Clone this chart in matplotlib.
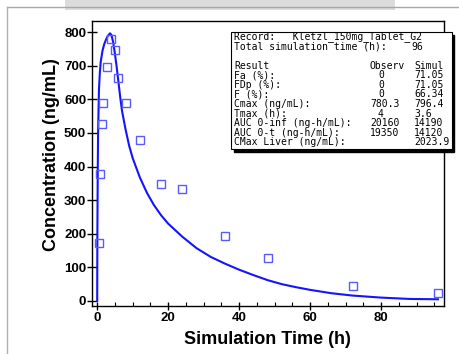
import matplotlib
matplotlib.use("Agg")
import matplotlib.pyplot as plt
from matplotlib.patches import Rectangle
from matplotlib.lines import Line2D
from matplotlib.ticker import MultipleLocator

# ---------------- data ----------------
obs_time = [0.4, 0.8, 1.3, 1.7, 2.7, 4, 5, 6, 8, 12, 18, 24, 36, 48, 72, 96]
obs_conc = [172, 377, 526, 588, 695, 780, 747, 662, 588, 479, 349, 333, 194, 127, 46, 23]

sim_time = [0, 0.05, 0.15, 0.25, 0.5, 0.75, 1, 1.5, 2, 2.5, 3, 3.6, 4, 4.5, 5, 5.5, 6,
            6.5, 7, 8, 9, 10, 12, 14, 16, 18, 20, 24, 28, 32, 36, 40, 44, 48, 52, 56,
            60, 66, 72, 80, 88, 96]
sim_conc = [0, 200, 380, 500, 630, 680, 712, 745, 765, 778, 789, 796.4, 792, 770, 735,
            695, 650, 605, 565, 510, 462, 425, 368, 322, 285, 255, 230, 191, 157, 131,
            111, 93, 77, 62, 50, 41, 33, 23, 16, 10, 6, 5]

x_ticks = [0, 20, 40, 60, 80]
y_ticks = [0, 100, 200, 300, 400, 500, 600, 700, 800]

record_line = "Record:   Kletzl_150mg_Tablet_G2"
total_label = "Total simulation time (h):"
total_value = "96"
result_labels = ["Fa (%):", "FDp (%):", "F (%):", "Cmax (ng/mL):", "Tmax (h):",
                 "AUC 0-inf (ng-h/mL):", "AUC 0-t (ng-h/mL):", "CMax Liver (ng/mL):"]
observ_values = ["0", "0", "0", "780.3", "4", "20160", "19350", ""]
simul_values = ["71.05", "71.05", "66.34", "796.4", "3.6", "14190", "14120", "2023.9"]

# ---------------- figure ----------------
W, H = 460, 354
fig = plt.figure(figsize=(W / 100, H / 100), dpi=100)
fig.patch.set_facecolor("white")


def fx(x):
    return x / W


def fy(y):
    return 1 - y / H


# outer frame (screenshot look)
fig.add_artist(Line2D([fx(7.3), fx(460)], [fy(7.3), fy(7.3)], color="#a8a8a8", lw=1.0,
                      transform=fig.transFigure))
fig.add_artist(Line2D([fx(7.3), fx(7.3)], [fy(7.3), fy(354)], color="#b0b0b0", lw=1.0,
                      transform=fig.transFigure))
fig.add_artist(Rectangle((fx(65), fy(10)), fx(395) - fx(65), fy(0) - fy(10),
                         transform=fig.transFigure, facecolor="#dcdcdc", edgecolor="none"))

ax_l, ax_r, ax_t, ax_b = 91.7, 444, 20.7, 306
ax = fig.add_axes([fx(ax_l), fy(ax_b), fx(ax_r) - fx(ax_l), fy(ax_t) - fy(ax_b)])

ax.plot(sim_time, sim_conc, color="#1414ff", lw=1.5, zorder=3)
ax.plot(obs_time, obs_conc, linestyle="none", marker="s", markersize=5.5,
        markerfacecolor="none", markeredgecolor="#5a5aff", markeredgewidth=1.0, zorder=4)

ax.set_xlim(-1.55, 97.7)
ax.set_ylim(-15, 834)
ax.set_xticks(x_ticks)
ax.set_yticks(y_ticks)
ax.xaxis.set_minor_locator(MultipleLocator(5))

for lab in ax.get_xticklabels() + ax.get_yticklabels():
    lab.set_fontfamily("Liberation Sans")
    lab.set_fontweight("bold")
    lab.set_fontsize(9.5)

ax.tick_params(axis="x", which="major", direction="inout", length=6, width=1, pad=1)
ax.tick_params(axis="x", which="minor", direction="in", length=3, width=0.8)
ax.tick_params(axis="y", which="major", direction="inout", length=7, width=1, pad=0.5)
for s in ax.spines.values():
    s.set_linewidth(1.0)
    s.set_color("black")

# axis labels
fig.text(fx(267.5), fy(340), "Simulation Time (h)", ha="center", va="center",
         fontfamily="Liberation Sans", fontweight="bold", fontsize=13)
fig.text(fx(52), fy(155), "Concentration (ng/mL)", ha="center", va="center",
         rotation=90, fontfamily="Liberation Sans", fontweight="bold", fontsize=13)

# result box with shadow
bx0, by0, bx1, by1 = 231, 31.7, 451.5, 149
sh = 3
fig.add_artist(Rectangle((fx(bx0 + sh), fy(by1 + sh)), fx(bx1) - fx(bx0), fy(by0) - fy(by1),
                         transform=fig.transFigure, facecolor="black", edgecolor="black",
                         zorder=10))
fig.add_artist(Rectangle((fx(bx0), fy(by1)), fx(bx1) - fx(bx0), fy(by0) - fy(by1),
                         transform=fig.transFigure, facecolor="white", edgecolor="black",
                         lw=0.8, zorder=11))

mono = dict(fontfamily="DejaVu Sans Mono", fontsize=7, va="center", ha="left", zorder=12)
line0 = 37.0
step = 9.57


def ly(i):
    return fy(line0 + step * i)


col_label, col_obs, col_sim = 234, 370, 414
fig.text(fx(col_label), ly(0), record_line, **mono)
fig.text(fx(col_label), ly(1), total_label, **mono)
fig.text(fx(411), ly(1), total_value, **mono)
fig.text(fx(col_label), ly(3), "Result", **mono)
fig.text(fx(col_obs), ly(3), "Observ", **mono)
fig.text(fx(col_sim), ly(3), "Simul", **mono)
for i, (lab, ov, sv) in enumerate(zip(result_labels, observ_values, simul_values)):
    y = ly(4 + i)
    fig.text(fx(col_label), y, lab, **mono)
    if ov:
        xo = col_obs + 8 if len(ov) == 1 else col_obs
        fig.text(fx(xo), y, ov, **mono)
    fig.text(fx(col_sim), y, sv, **mono)

fig.savefig("out.png", dpi=100)
